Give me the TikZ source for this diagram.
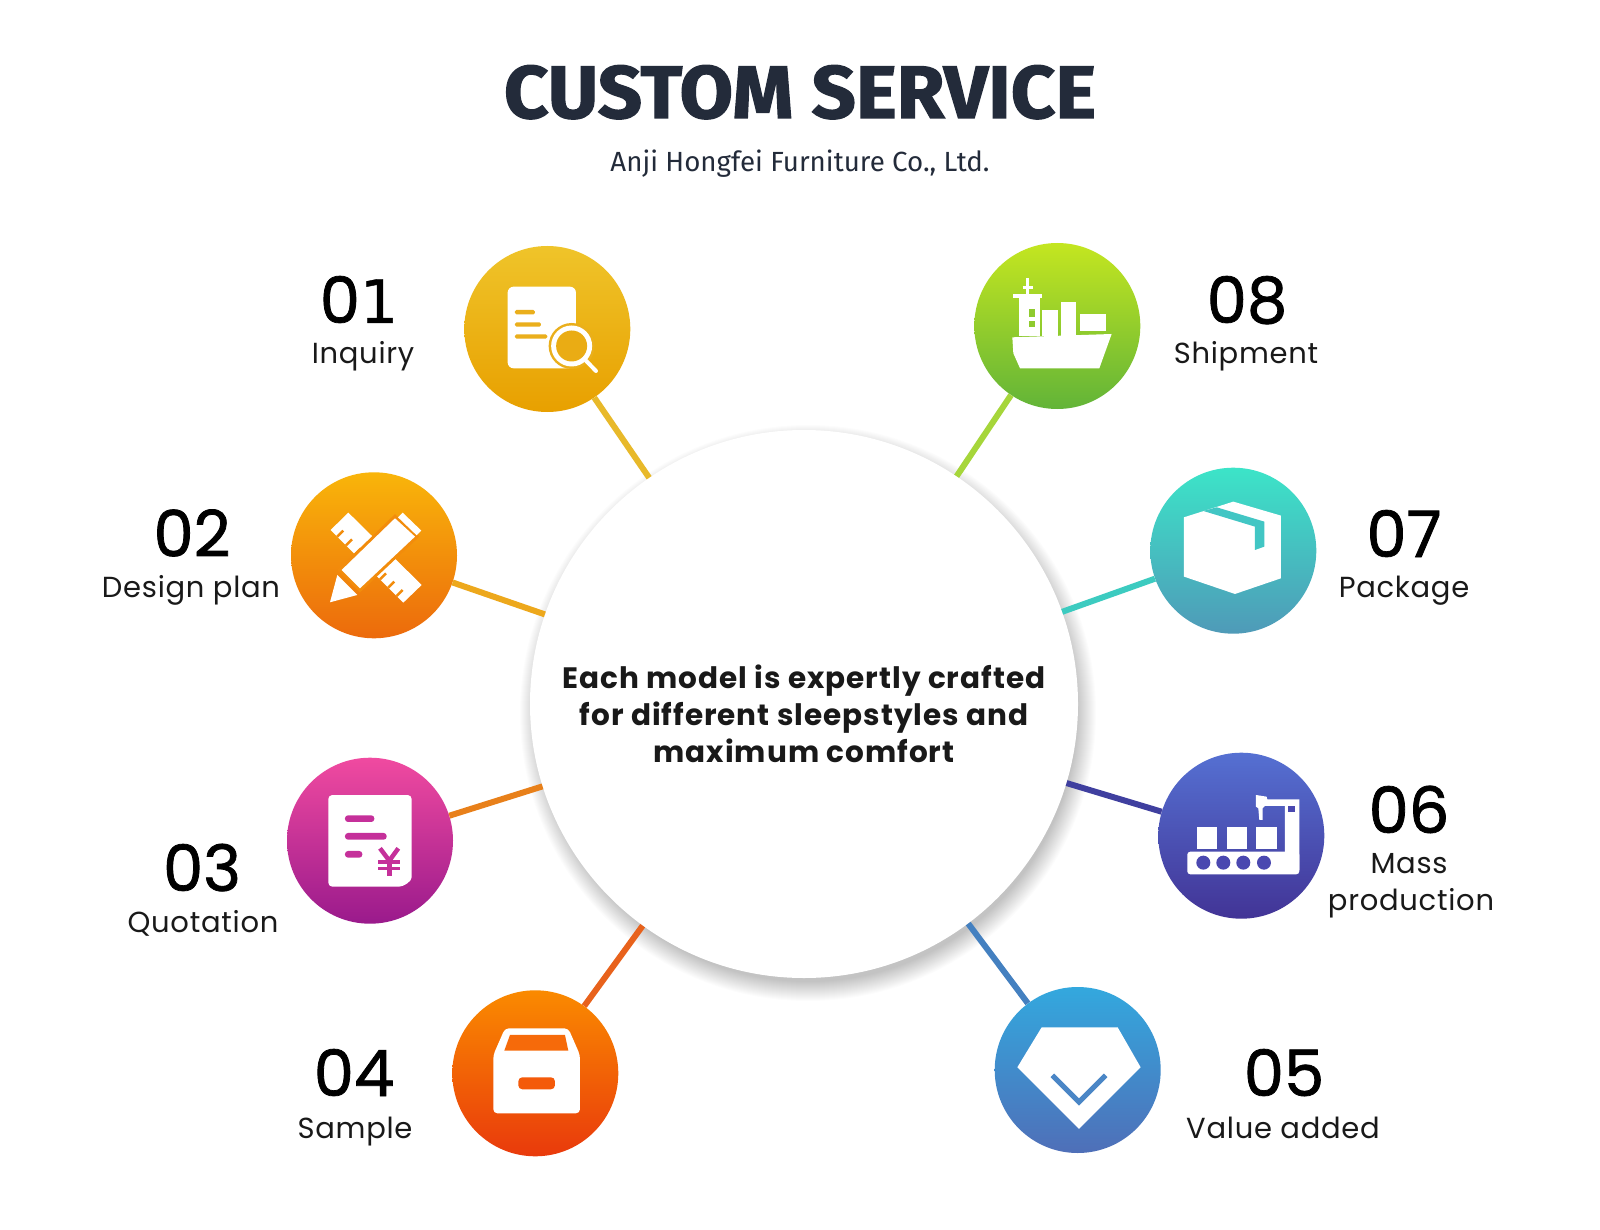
\documentclass[tikz,border=0pt]{standalone}
\usepackage{fontspec}
\setmainfont{Poppins}
\newfontfamily\titlefont[BoldFeatures={FakeBold=1.6}]{Fira Sans}
\newfontfamily\subfont{Fira Sans}
\newfontfamily\numfont[FakeBold=1.2]{Poppins}
\newfontfamily\onefont[FakeBold=0.6]{DejaVu Sans}
\newfontfamily\labfont[LetterSpace=2.5]{Poppins}
\newfontfamily\hubfont[LetterSpace=3.4]{Poppins}
\definecolor{tink}{HTML}{232B3A}
\definecolor{gold}{HTML}{EAAF1C}
\definecolor{goldb}{HTML}{EAAC14}
\definecolor{org}{HTML}{F28C0C}
\definecolor{mag}{HTML}{C5309A}
\definecolor{boxo}{HTML}{F66A0A}
\definecolor{boxr}{HTML}{F45A0A}
\definecolor{vio}{HTML}{4A48B0}
\definecolor{blu}{HTML}{4A86C6}
\definecolor{tea}{HTML}{42C6C4}
\definecolor{grn}{HTML}{8FCB2E}
\definecolor{ta}{HTML}{EFC42A}\definecolor{ba}{HTML}{E8A000}
\definecolor{tb}{HTML}{F9B50A}\definecolor{bb}{HTML}{EC6A0C}
\definecolor{tc}{HTML}{F04AA0}\definecolor{bc}{HTML}{9A1A8C}
\definecolor{td}{HTML}{FA8A00}\definecolor{bd}{HTML}{E93A0C}
\definecolor{te}{HTML}{33A8DE}\definecolor{be}{HTML}{4F6FB8}
\definecolor{tf}{HTML}{5570D2}\definecolor{bf}{HTML}{423496}
\definecolor{tg}{HTML}{3CE4C8}\definecolor{bg}{HTML}{4F9AB8}
\definecolor{th}{HTML}{C4E620}\definecolor{bh}{HTML}{62B438}
\definecolor{sa}{HTML}{E8B92A}\definecolor{sb}{HTML}{EDA81C}
\definecolor{sc}{HTML}{E8801A}\definecolor{sd}{HTML}{E8621C}
\definecolor{se}{HTML}{4480C0}\definecolor{sf}{HTML}{3F3F9F}
\definecolor{sg}{HTML}{3CCBC0}\definecolor{sh}{HTML}{A6D63A}
\tikzset{
  badge/.style={circle,minimum size=166pt,inner sep=0pt},
  spoke/.style={line width=6pt},
  numtxt/.style={anchor=base,font=\numfont\fontsize{64}{64}\selectfont,text=black,inner sep=0pt},
  labtxt/.style={anchor=base,font=\labfont\fontsize{29}{29}\selectfont,text=black!90,inner sep=0pt},
  hubtxt/.style={anchor=base,font=\hubfont\fontsize{29.5}{30}\selectfont\bfseries,text=black!90,inner sep=0pt},
  icon/.style={fill=white,draw=none},
  zoomA/.style={shift={(260,220)},x=0.3333pt,y=-0.3333pt},
  zoomB/.style={shift={(930,220)},x=0.3333pt,y=-0.3333pt},
  zoomC/.style={shift={(260,740)},x=0.3333pt,y=-0.3333pt},
  zoomD/.style={shift={(930,740)},x=0.3333pt,y=-0.3333pt},
}
\begin{document}
\begin{tikzpicture}[x=1pt,y=-1pt]
\useasboundingbox[fill=white] (0,0) rectangle (1600,1230);
% hub shadow
\foreach \r in {0,1,...,19}{
  \fill[black,opacity=0.012] (808,713) circle ({274+14-\r});
}
% hub and badges
\node[circle,minimum size=548pt,inner sep=0pt,fill=white] (hub) at (804,704) {};
\node[badge,top color=ta,bottom color=ba] (b1) at (547.3,329) {};
\node[badge,top color=tb,bottom color=bb] (b2) at (374,555.3) {};
\node[badge,top color=tc,bottom color=bc] (b3) at (370,840.7) {};
\node[badge,top color=td,bottom color=bd] (b4) at (535.3,1073.3) {};
\node[badge,top color=te,bottom color=be] (b5) at (1077.7,1070) {};
\node[badge,top color=tf,bottom color=bf] (b6) at (1241.3,835.7) {};
\node[badge,top color=tg,bottom color=bg] (b7) at (1233.3,550.7) {};
\node[badge,top color=th,bottom color=bh] (b8) at (1057.3,326) {};
% connectors
\draw[spoke,sa] (b1) -- (hub);
\draw[spoke,sb] (b2) -- (hub);
\draw[spoke,sc] (b3) -- (hub);
\draw[spoke,sd] (b4) -- (hub);
\draw[spoke,se] (b5) -- (hub);
\draw[spoke,sf] (b6) -- (hub);
\draw[spoke,sg] (b7) -- (hub);
\draw[spoke,sh] (b8) -- (hub);
% title
\node[inner sep=0pt,anchor=base,xscale=1.04,text=tink,font=\titlefont\bfseries\fontsize{74.5}{75}\selectfont] (title) at (800,118) {CUSTOM SERVICE};
\node[inner sep=0pt,anchor=base,text=tink,font=\subfont\fontsize{27.7}{28}\selectfont] (subtitle) at (800,172) {Anji Hongfei Furniture Co., Ltd.};
% hub text
\node[hubtxt] (h1) at (804,688) {Each model is expertly crafted};
\node[hubtxt] (h2) at (804,725) {for different sleepstyles and};
\node[hubtxt] (h3) at (804,762) {maximum comfort};
% numbers, labels
\node[numtxt] (n1) at (359,323) {0{\onefont\fontsize{60}{60}\selectfont 1}};   \node[labtxt] (l1) at (363,363) {Inquiry};
\node[numtxt] (n2) at (192,556.5) {02}; \node[labtxt] (l2) at (191,597) {Design plan};
\node[numtxt] (n3) at (202,891) {03};   \node[labtxt] (l3) at (203,932) {Quotation};
\node[numtxt] (n4) at (354,1096) {04};  \node[labtxt] (l4) at (355,1138) {Sample};
\node[numtxt] (n5) at (1284,1096) {05}; \node[labtxt] (l5) at (1283,1138) {Value added};
\node[numtxt] (n6) at (1409,833) {06};  \node[labtxt] (l6a) at (1409,873) {Mass};
\node[labtxt] (l6b) at (1411,910) {production};
\node[numtxt] (n7) at (1404,557) {07};  \node[labtxt] (l7) at (1404,597) {Package};
\node[numtxt] (n8) at (1247,323) {08};  \node[labtxt] (l8) at (1246,363) {Shipment};
% icon 01
\begin{scope}[zoomA]
\fill[icon,rounded corners=6pt] (743,200) rectangle (948,445);
\fill[gold,rounded corners=1.5pt] (765,270) rectangle (825,283);
\fill[gold,rounded corners=1.5pt] (765,307) rectangle (843,320);
\fill[gold,rounded corners=1.5pt] (765,343) rectangle (862,356);
\fill[gold] (935,378) circle (23pt);
\fill[white] (935,378) circle (20.5pt);
\fill[goldb] (935,378) circle (15.5pt);
\draw[white,line width=4pt,line cap=round] (978,422) -- (1008,453);
% icon 02
\fill[icon] (265,878) -- (212,930) -- (430,1148) -- (485,1095) -- cycle;
\foreach \a/\b in {232/950,258/976,285/1003,360/1078,385/1103,410/1128}{
  \draw[org,line width=2.5pt] (\a,\b) -- ++(18,-18);
}
\draw[org,line width=6pt] (245,1050) -- (405,895) -- (465,950) -- (300,1105) -- cycle;
\fill[icon] (245,1050) -- (405,895) -- (465,950) -- (300,1105) -- cycle;
\fill[icon] (428,878) -- (484,932) -- (470,946) -- (414,892) -- cycle;
\fill[icon] (232,1065) -- (292,1125) -- (210,1147) -- cycle;
\end{scope}
% icon 08 and 07
\begin{scope}[zoomB]
\fill[icon] (247,352) -- (545,342) -- (508,445) -- (270,445) -- (250,400) -- cycle;
\fill[icon] (268,235) rectangle (330,348);
\fill[icon] (250,222) rectangle (335,235);
\draw[white,line width=3pt] (292,175) -- (292,225);
\draw[white,line width=3pt] (278,203) -- (308,203);
\fill[grn] (298,268) rectangle (315,290);
\fill[grn] (298,303) rectangle (315,322);
\fill[icon] (335,270) rectangle (385,348);
\fill[icon] (392,245) rectangle (438,348);
\fill[icon] (450,283) rectangle (528,333);
\fill[icon] (762,892) -- (910,845) -- (1053,887) -- (1053,1075) -- (915,1122) -- (762,1070) -- cycle;
\fill[tea] (820,873) -- (975,920) -- (975,990) -- (1003,980) -- (1003,905) -- (860,862) -- cycle;
\end{scope}
% icon 03 and 04
\begin{scope}[zoomC]
\fill[icon,rounded corners=4pt] (205,165) -- (455,165) -- (455,390) -- (455,400) .. controls (455,425) and (430,440) .. (405,440) -- (205,440) -- cycle;
\fill[mag,rounded corners=3pt] (255,226) rectangle (343,246);
\fill[mag,rounded corners=3pt] (255,279) rectangle (380,299);
\fill[mag,rounded corners=3pt] (255,333) rectangle (307,353);
\draw[mag,line width=4.5pt] (360,325) -- (388,362) -- (415,325);
\draw[mag,line width=4.5pt] (388,362) -- (388,408);
\draw[mag,line width=3.5pt] (355,366) -- (420,366);
\draw[mag,line width=3.5pt] (355,385) -- (420,385);
\fill[icon,rounded corners=4pt] (735,865) -- (925,865) -- (960,945) -- (960,1120) -- (700,1120) -- (700,945) -- cycle;
\fill[boxo] (750,885) -- (915,885) -- (925,932) -- (733,932) -- cycle;
\fill[boxr,rounded corners=4pt] (775,1012) rectangle (885,1048);
\end{scope}
% icon 05 and 06
\begin{scope}[zoomD]
\fill[icon] (335,862) -- (563,862) -- (632,982) -- (447,1167) -- (262,982) -- cycle;
\draw[blu,line width=5pt] (367,1006) -- (447,1086) -- (527,1006);
\fill[icon,rounded corners=3pt] (772,335) rectangle (1108,403);
\fill[icon] (978,165) -- (1010,170) -- (1012,178) -- (1108,178) -- (1108,390) -- (1065,390) -- (1065,198) -- (1005,198) -- (998,205) -- (998,240) -- (988,240) -- (985,205) -- (978,200) -- cycle;
\foreach \x in {820,880,940,1002}{\fill[vio] (\x,368) circle (7pt);}
\fill[icon] (802,262) rectangle (860,328);
\fill[icon] (890,262) rectangle (950,328);
\fill[icon] (978,262) rectangle (1040,328);
\fill[vio] (1075,198) rectangle (1095,215);
\end{scope}
\end{tikzpicture}
\end{document}
